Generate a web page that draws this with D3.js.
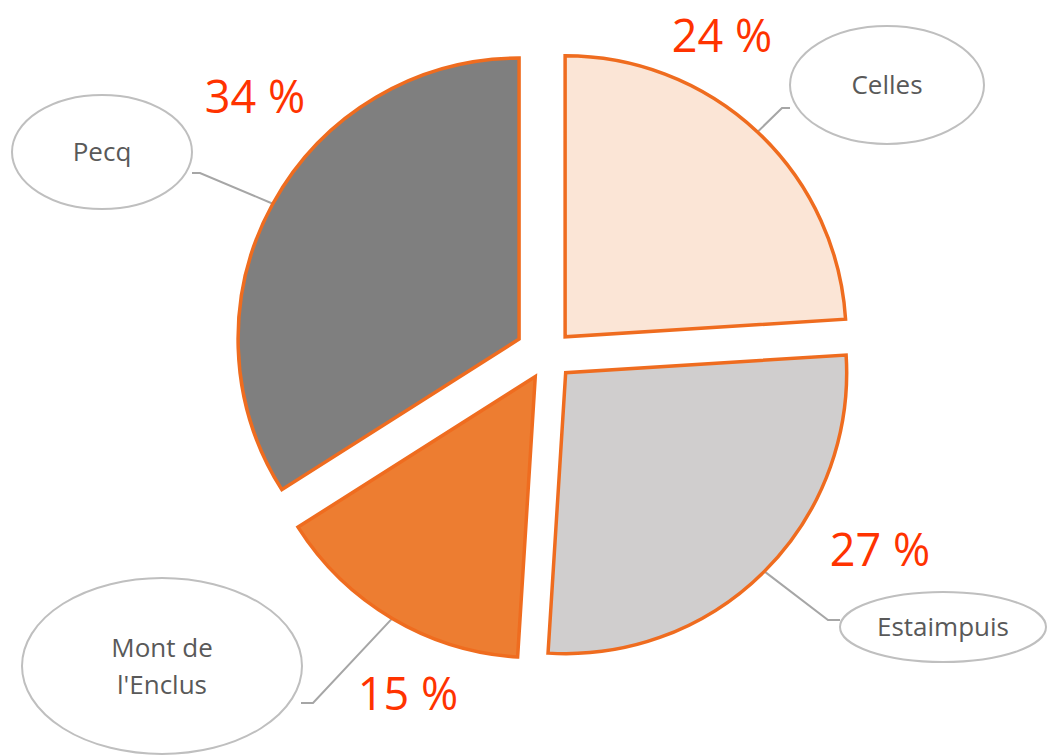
<!DOCTYPE html>
<html>
<head>
<meta charset="utf-8">
<script src="https://cdn.jsdelivr.net/npm/d3@7"></script>
<style>
  body { margin: 0; background: #fff; }
  svg { display: block; }
</style>
</head>
<body>
<div class="container_main"></div>
<script>
// data
const towns = ["Celles", "Estaimpuis", "Mont de l'Enclus", "Pecq"];
const townLines = [["Celles"], ["Estaimpuis"], ["Mont de", "l'Enclus"], ["Pecq"]];
const shares = [24, 27, 15, 34];

// look
const fills = ["#fbe5d6", "#d0cece", "#ed7d31", "#7f7f7f"];
const explode = [25, 25, 25, 33];
// callout layout: ellipse centre/radii, elbow and end of leader line, percent label spot
const callouts = [
  {ex: 887, ey: 85, rx: 97, ry: 59, elbow: [782, 108], end: [790, 108], px: 722, py: 52},
  {ex: 943, ey: 627, rx: 103, ry: 35, elbow: [828, 620], end: [840, 620], px: 880, py: 566},
  {ex: 162, ey: 666, rx: 140, ry: 88, elbow: [313, 703], end: [301, 703], px: 408, py: 710},
  {ex: 102, ey: 152, rx: 90, ry: 57, elbow: [200, 173], end: [192, 173], px: 255, py: 113}
];

const svgwidth = 1048, svgheight = 756;
const cx = 548, cy = 355, radius = 281;

const svg = d3.select('.container_main')
  .append("svg")
  .attr("width", svgwidth)
  .attr("height", svgheight);

const pie = d3.pie().sort(null).value(d => d);
const arcs = pie(shares);
const arc = d3.arc().innerRadius(0).outerRadius(radius);

// slice centres after explode
const sliceCentre = function(d, i) {
  const a = (d.startAngle + d.endAngle) / 2;
  return [cx + explode[i] * Math.sin(a), cy - explode[i] * Math.cos(a)];
};

const g = svg.append("g");

// leader lines first so they sit under the slices
arcs.forEach(function(d, i) {
  const c = sliceCentre(d, i);
  const a = (d.startAngle + d.endAngle) / 2;
  const start = [c[0] + radius * Math.sin(a), c[1] - radius * Math.cos(a)];
  g.append("path")
    .attr("d", d3.line()([start, callouts[i].elbow, callouts[i].end]))
    .attr("fill", "none")
    .attr("stroke", "#a6a6a6")
    .attr("stroke-width", 2);
});

g.selectAll(".slice")
  .data(arcs)
  .enter()
  .append("path")
    .attr("class", "slice")
    .attr("transform", (d, i) => "translate(" + sliceCentre(d, i) + ")")
    .attr("d", arc)
    .attr("fill", (d, i) => fills[i])
    .attr("stroke", "#ef6c1f")
    .attr("stroke-width", 3.5)
    .attr("stroke-linejoin", "miter");

// ellipses with town names
callouts.forEach(function(c, i) {
  g.append("ellipse")
    .attr("cx", c.ex).attr("cy", c.ey)
    .attr("rx", c.rx).attr("ry", c.ry)
    .attr("fill", "#fff")
    .attr("stroke", "#bfbfbf")
    .attr("stroke-width", 2);
  const lines = townLines[i];
  const lh = 37;
  const t = g.append("text")
    .attr("text-anchor", "middle")
    .attr("font-family", "Open Sans, sans-serif")
    .attr("font-size", "26px")
    .attr("fill", "#595959");
  lines.forEach(function(s, j) {
    t.append("tspan")
      .attr("x", c.ex)
      .attr("y", c.ey + 9 + (j - (lines.length - 1) / 2) * lh)
      .text(s);
  });
});

// percent labels
g.selectAll(".pct")
  .data(shares)
  .enter()
  .append("text")
    .attr("class", "pct")
    .attr("x", (d, i) => callouts[i].px)
    .attr("y", (d, i) => callouts[i].py)
    .attr("text-anchor", "middle")
    .attr("font-family", "Open Sans, sans-serif")
    .attr("font-size", "45px")
    .attr("fill", "#ff3300")
    .text(d => d + " %");
</script>
</body>
</html>
